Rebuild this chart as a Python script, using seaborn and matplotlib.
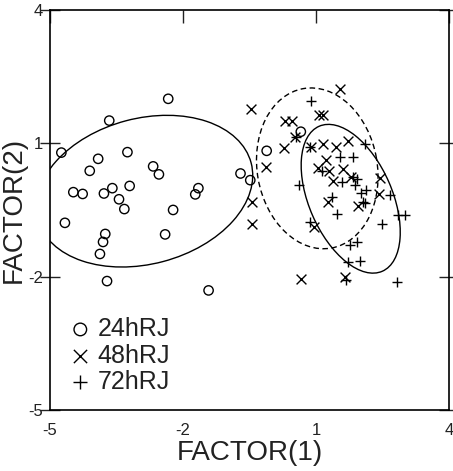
import numpy as np
import pandas as pd
import seaborn as sns
import matplotlib.pyplot as plt
from matplotlib.patches import Ellipse

# factor scores, one list per group
x_24h = [-2.33, -3.66, -4.74, -3.25, -3.91, -4.10, -2.67, -2.54, -4.47, -4.26,
         -3.78, -3.59, -3.20, -3.44, -3.32, -1.65, -1.72, -2.22, -4.66, -3.75,
         -3.80, -3.87, -2.40, -3.71, -1.42, -0.70, -0.48, 0.66, -0.11]
y_24h = [2.00, 1.51, 0.79, 0.80, 0.65, 0.38, 0.48, 0.30, -0.10, -0.14,
         -0.13, -0.01, 0.04, -0.26, -0.48, -0.01, -0.15, -0.50, -0.79, -1.04,
         -1.22, -1.49, -1.05, -2.10, -2.31, 0.32, 0.17, 1.26, 0.83]

x_48h = [1.54, -0.47, 0.30, 0.45, 1.07, 1.16, 0.53, 0.28, -0.13, 0.90,
         1.17, 1.45, 1.73, 1.23, 1.05, 1.30, 1.62, 1.39, 1.80, 2.44,
         2.43, 1.28, 1.95, -0.43, -0.45, 0.96, 0.67, 1.65]
y_48h = [2.22, 1.78, 1.51, 1.51, 1.64, 1.64, 1.15, 0.89, 0.47, 0.92,
         0.98, 0.92, 1.04, 0.62, 0.44, 0.38, 0.42, 0.14, 0.25, 0.21,
         -0.15, -0.31, -0.41, -0.31, -0.82, -0.88, -2.05, -2.00]

x_72h = [0.89, 0.55, 0.87, 2.11, 1.54, 1.83, 1.13, 1.58, 1.84, 1.92,
         1.88, 0.62, 2.02, 2.14, 2.07, 2.11, 2.67, 1.36, 1.47, 2.50,
         2.86, 3.01, 0.87, 1.77, 1.92, 1.73, 1.99, 1.68, 2.84]
y_72h = [1.95, 1.15, 0.91, 0.98, 0.69, 0.70, 0.38, 0.12, 0.24, 0.19,
         0.06, 0.05, -0.11, -0.05, -0.31, -0.35, -0.17, -0.20, -0.60, -0.82,
         -0.61, -0.61, -0.76, -1.29, -1.23, -1.66, -1.64, -2.08, -2.13]

groups = ['24hRJ', '48hRJ', '72hRJ']
ticks = [-5, -2, 1, 4]

df = pd.concat([
    pd.DataFrame({'f1': x_24h, 'f2': y_24h, 'group': '24hRJ'}),
    pd.DataFrame({'f1': x_48h, 'f2': y_48h, 'group': '48hRJ'}),
    pd.DataFrame({'f1': x_72h, 'f2': y_72h, 'group': '72hRJ'}),
])

sns.set_style('white')
plt.rcParams['font.family'] = ['Liberation Sans', 'DejaVu Sans']
plt.rcParams['axes.unicode_minus'] = False

fig = plt.figure(figsize=(4.53, 4.71), dpi=100)
ax = fig.add_axes([0.110, 0.1295, 0.881, 0.8495])

markers = {'24hRJ': 'o', '48hRJ': 'x', '72hRJ': '+'}
ell_style = {'24hRJ': '-', '48hRJ': (0, (4, 2.5)), '72hRJ': '-'}


def conf_ellipse(sub, ax, k, ls):
    # ellipse from the group's covariance matrix
    cov = np.cov(sub['f1'], sub['f2'])
    vals, vecs = np.linalg.eigh(cov)
    angle = np.degrees(np.arctan2(vecs[1, 1], vecs[0, 1]))
    e = Ellipse((sub['f1'].mean(), sub['f2'].mean()),
                width=2 * k * np.sqrt(vals[1]), height=2 * k * np.sqrt(vals[0]),
                angle=angle, fill=False, edgecolor='black', lw=1.0, ls=ls)
    ax.add_patch(e)


for g in groups:
    sub = df[df['group'] == g]
    if g == '24hRJ':
        sns.scatterplot(data=sub, x='f1', y='f2', marker='o', s=45,
                        facecolor='none', edgecolor='black', linewidth=1.0,
                        label=g, ax=ax)
    else:
        sns.scatterplot(data=sub, x='f1', y='f2', marker=markers[g], s=50,
                        color='black', linewidth=1.0, label=g, ax=ax)
    conf_ellipse(sub, ax, 1.72, ell_style[g])

ax.set_xlim(-5, 4)
ax.set_ylim(-5, 4)
ax.set_xticks(ticks)
ax.set_yticks(ticks)
ax.tick_params(axis='both', which='both', labelsize=12, colors='#222222',
               direction='in', length=9, width=1.0, top=True, right=True)
ax.tick_params(axis='x', pad=9)
ax.tick_params(axis='y', which='both', left=True, direction='inout', length=14, pad=-2)
for sp in ax.spines.values():
    sp.set_color('black')
    sp.set_linewidth(1.2)

ax.set_xlabel('FACTOR(1)', fontsize=20, color='#222222', labelpad=2)
ax.set_ylabel('FACTOR(2)', fontsize=20, color='#222222')
ax.yaxis.set_label_coords(-0.058, 0.5)

leg = ax.legend(loc='lower left', bbox_to_anchor=(0.02, 0.015), frameon=False,
                fontsize=18, handletextpad=0.2, labelspacing=0.1,
                handlelength=1.0, borderaxespad=0, markerscale=1.35)
for t in leg.get_texts():
    t.set_color('#222222')

fig.savefig('out.png', dpi=100)
